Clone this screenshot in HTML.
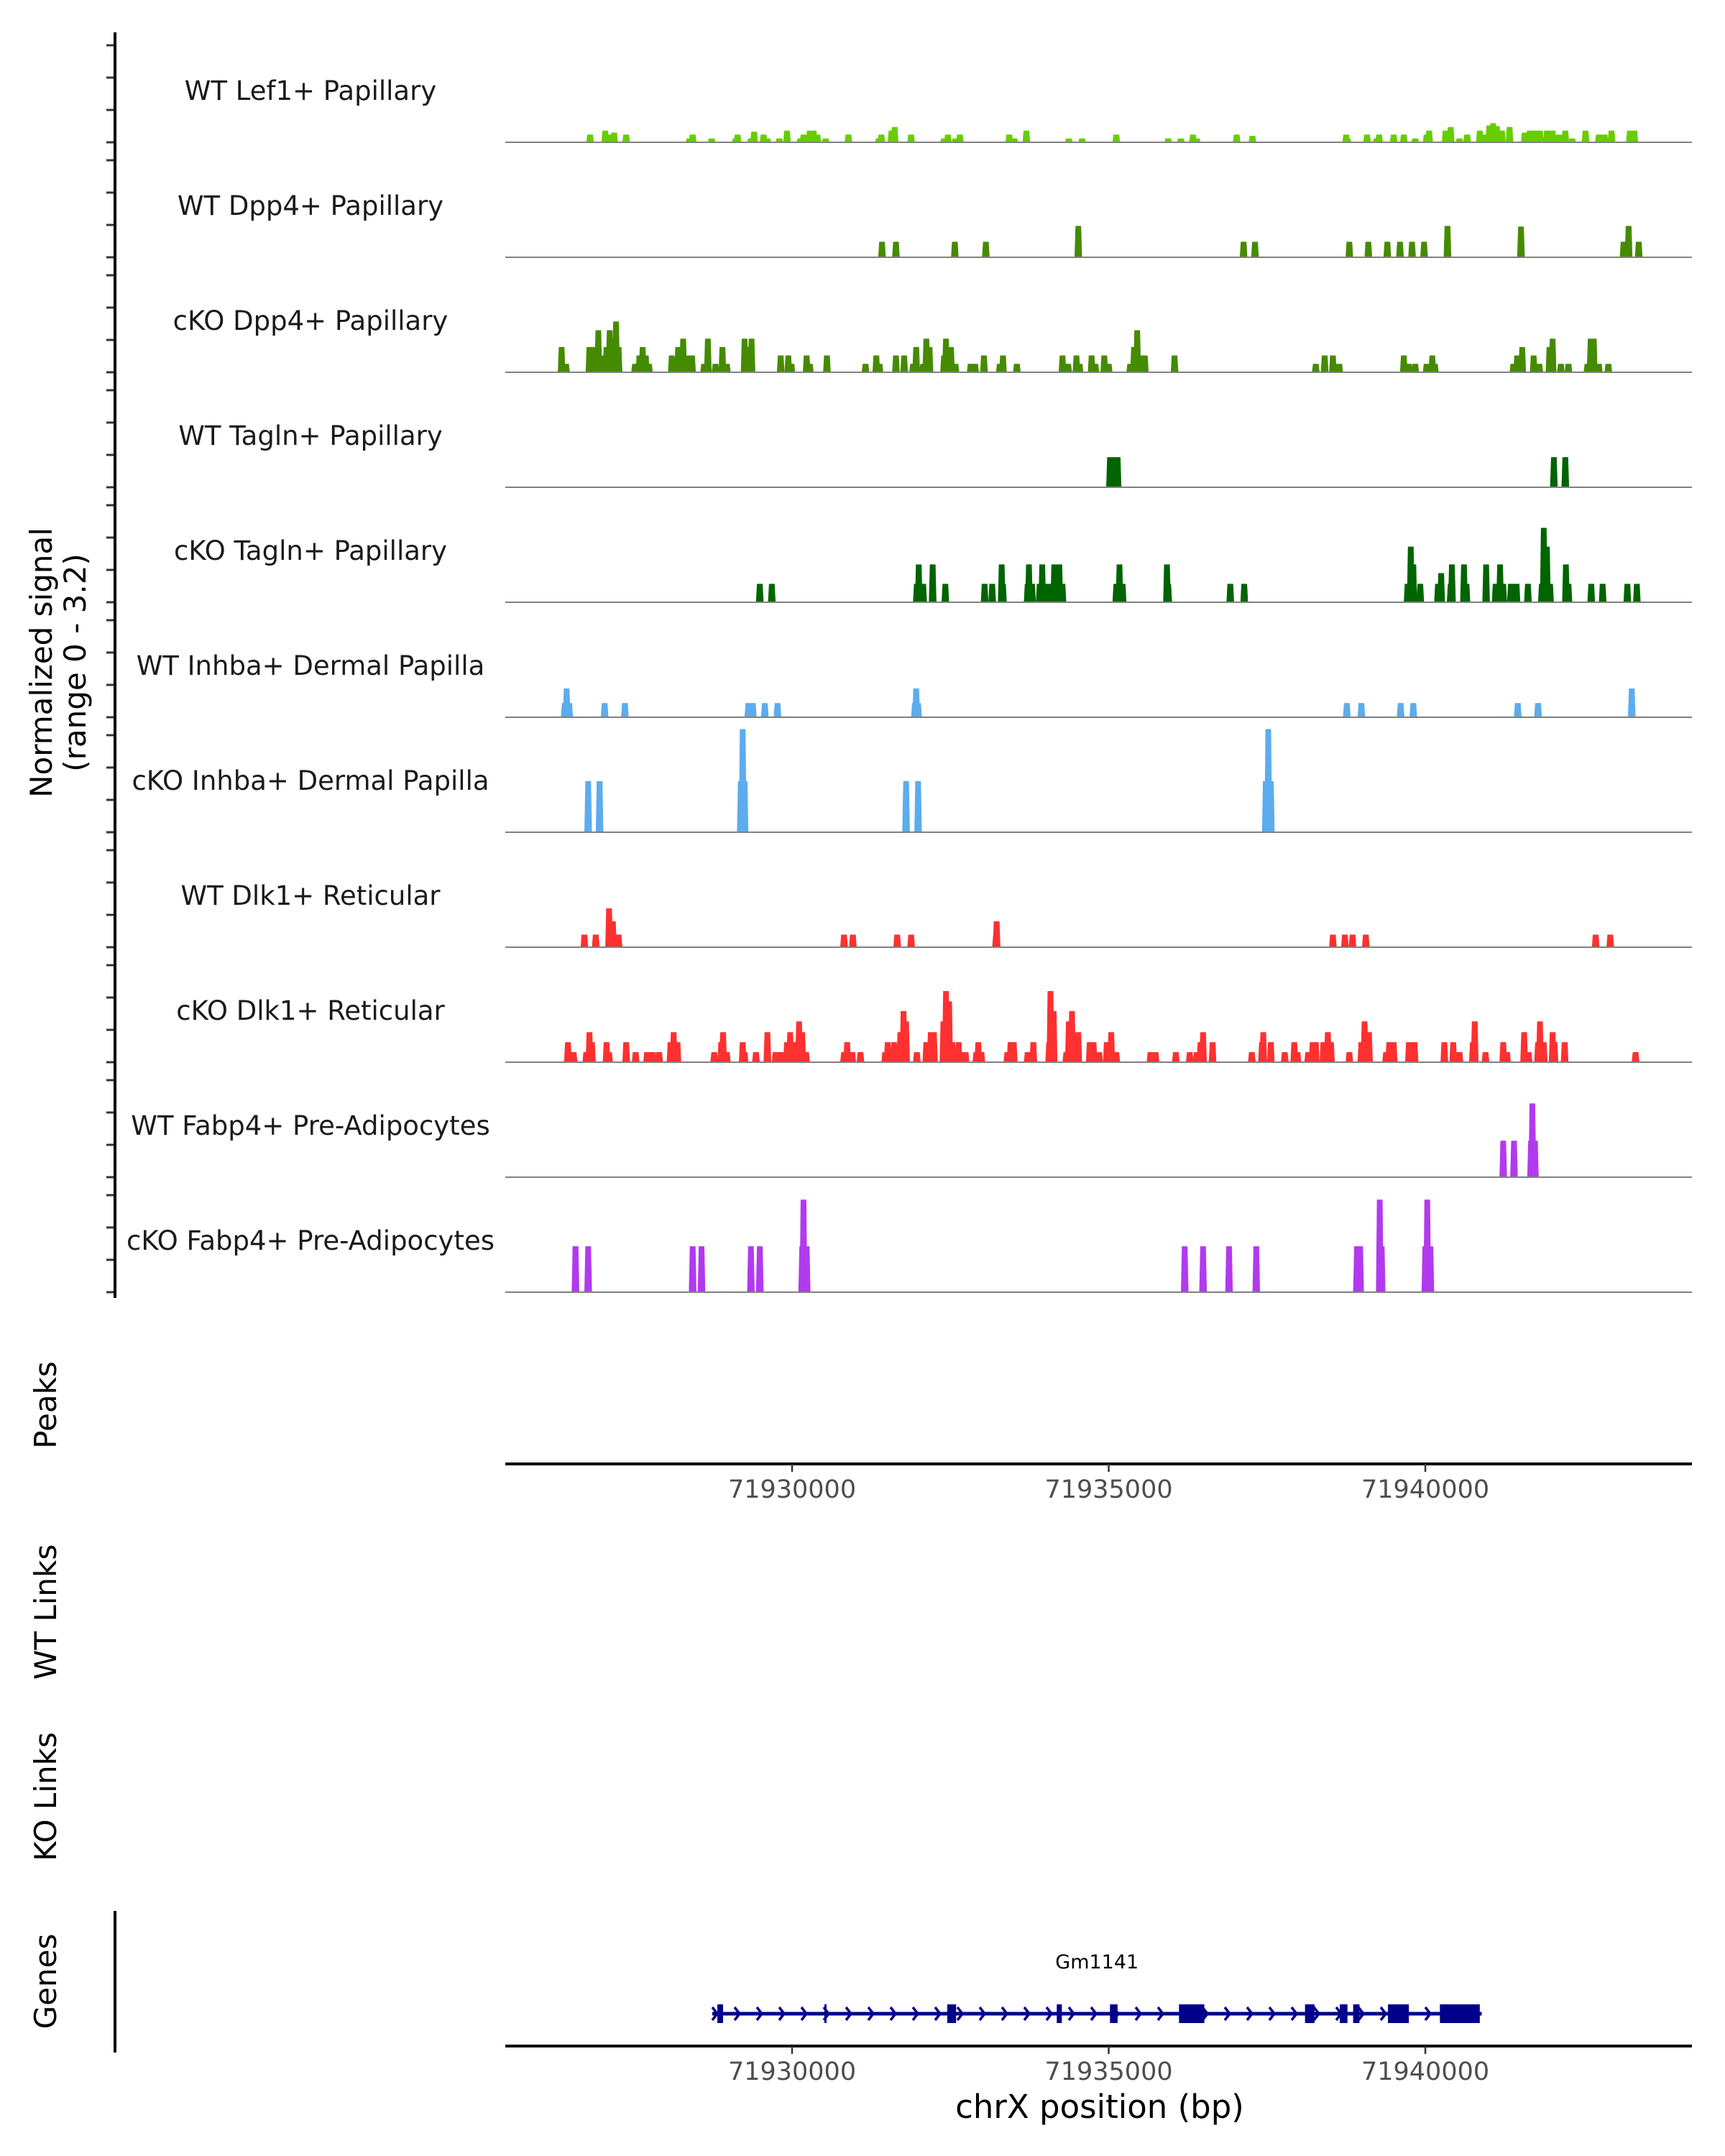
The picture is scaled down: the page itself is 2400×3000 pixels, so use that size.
<!DOCTYPE html>
<html><head><meta charset="utf-8"><style>
html,body{margin:0;padding:0;background:#fff;}
svg{display:block;font-family:"DejaVu Sans","Liberation Sans",sans-serif;}
</style></head><body>
<svg id="chart" width="2400" height="3000" viewBox="0 0 2400 3000" xmlns="http://www.w3.org/2000/svg">
<g id="tracks"></g>
<g id="axes"></g>
<text transform="translate(72,922) rotate(-90)" text-anchor="middle" font-size="42" fill="#000">Normalized signal</text>
<text transform="translate(119,922) rotate(-90)" text-anchor="middle" font-size="42" fill="#000">(range 0 - 3.2)</text>
<text transform="translate(78,1955) rotate(-90)" text-anchor="middle" font-size="42" fill="#000">Peaks</text>
<text transform="translate(78,2243) rotate(-90)" text-anchor="middle" font-size="42" fill="#000">WT Links</text>
<text transform="translate(78,2500) rotate(-90)" text-anchor="middle" font-size="42" fill="#000">KO Links</text>
<text transform="translate(78,2757) rotate(-90)" text-anchor="middle" font-size="42" fill="#000">Genes</text>
<line x1="160" y1="2659" x2="160" y2="2856" stroke="#000" stroke-width="4"/>
<text x="1530" y="2947" text-anchor="middle" font-size="45" fill="#000">chrX position (bp)</text>
<g id="genes"></g>
</svg>
<script>
// positions: kb beyond chrX:71,925,000 ; heights: normalized signal
const trackNames = ["WT Lef1+ Papillary","WT Dpp4+ Papillary","cKO Dpp4+ Papillary","WT Tagln+ Papillary","cKO Tagln+ Papillary","WT Inhba+ Dermal Papilla","cKO Inhba+ Dermal Papilla","WT Dlk1+ Reticular","cKO Dlk1+ Reticular","WT Fabp4+ Pre-Adipocytes","cKO Fabp4+ Pre-Adipocytes"];
const trackColors = ["#66CD00","#458B00","#458B00","#006400","#006400","#5CACEE","#5CACEE","#FF3030","#FF3030","#B23AEE","#B23AEE"];
const t1pos=[1.81,2.05,2.13,2.19,2.38,3.38,3.43,3.73,4.11,4.14,4.35,4.40,4.55,4.61,4.80,4.92,5.13,5.18,5.28,5.34,5.40,5.53,5.89,6.37,6.41,6.57,6.62,6.88,7.40,7.46,7.58,7.65,8.43,8.51,8.70,9.37,9.58,10.12,10.94,11.14,11.33,11.39,12.02,12.27,13.75,13.77,14.08,14.23,14.27,14.50,14.66,14.84,15.02,15.06,15.32,15.40,15.54,15.66,15.86,15.92,16.01,16.07,16.13,16.21,16.33,16.57,16.65,16.74,16.81,16.92,17.01,17.11,17.21,17.32,17.53,17.74,17.83,17.94,18.23,18.30];
const t1val=[0.24,0.36,0.24,0.3,0.24,0.12,0.24,0.12,0.12,0.24,0.12,0.33,0.24,0.12,0.12,0.36,0.12,0.24,0.36,0.36,0.24,0.12,0.24,0.12,0.24,0.36,0.47,0.24,0.12,0.24,0.12,0.24,0.24,0.12,0.36,0.12,0.12,0.24,0.12,0.12,0.24,0.12,0.24,0.2,0.24,0.12,0.24,0.12,0.24,0.24,0.24,0.12,0.24,0.36,0.36,0.47,0.12,0.24,0.36,0.24,0.52,0.59,0.5,0.36,0.47,0.3,0.36,0.36,0.36,0.36,0.36,0.24,0.36,0.12,0.36,0.24,0.24,0.36,0.36,0.36];
const t2pos=[6.42,6.64,7.57,8.06,9.52,12.13,12.31,13.80,14.10,14.40,14.60,14.79,14.98,15.35,16.51,18.13,18.21,18.37];
const t2val=[0.48,0.48,0.48,0.48,0.97,0.48,0.48,0.48,0.48,0.48,0.48,0.48,0.48,0.97,0.95,0.48,0.97,0.48];
const t3pos=[1.36,1.43,1.80,1.87,1.94,1.99,2.07,2.12,2.17,2.22,2.26,2.52,2.59,2.64,2.69,2.74,3.10,3.20,3.28,3.34,3.42,3.61,3.67,3.79,3.90,3.97,4.25,4.31,4.36,4.82,4.94,4.99,5.23,5.28,5.55,6.16,6.33,6.38,6.64,6.77,6.91,6.96,7.07,7.12,7.17,7.40,7.43,7.51,7.58,7.82,7.89,8.03,8.28,8.33,8.55,9.27,9.36,9.49,9.54,9.73,9.79,9.93,10.00,10.34,10.40,10.45,10.51,10.57,11.04,13.27,13.41,13.54,13.64,14.66,14.74,14.84,15.02,15.11,15.15,16.39,16.45,16.53,16.71,16.80,16.96,17.01,17.14,17.26,17.56,17.61,17.66,17.74,17.89];
const t3val=[0.78,0.26,0.78,0.78,1.3,0.52,0.78,1.3,1.04,1.57,0.78,0.26,0.52,0.78,0.52,0.26,0.52,0.78,1.04,0.52,0.52,0.26,1.04,0.26,0.78,0.26,1.04,0.78,1.04,0.52,0.52,0.26,0.52,0.26,0.52,0.26,0.52,0.26,0.52,0.52,0.26,0.78,0.26,1.04,0.78,0.52,1.04,0.78,0.26,0.26,0.26,0.52,0.26,0.52,0.26,0.52,0.26,0.52,0.26,0.52,0.26,0.52,0.26,0.26,0.78,1.3,0.52,0.52,0.52,0.26,0.52,0.52,0.26,0.52,0.26,0.26,0.26,0.52,0.26,0.26,0.52,0.78,0.52,0.26,0.78,1.04,0.26,0.26,0.26,1.04,1.04,0.26,0.26];
const t4pos=[10.02,10.08,10.14,17.03,17.21];
const t4val=[0.93,0.93,0.93,0.93,0.93];
const t5pos=[4.49,4.68,6.97,7.00,7.07,7.22,7.42,8.04,8.16,8.31,8.33,8.72,8.74,8.79,8.91,8.95,9.01,9.10,9.14,9.22,9.27,10.12,10.17,10.22,10.92,10.94,11.92,12.14,14.72,14.77,14.81,14.92,15.20,15.25,15.40,15.42,15.61,15.65,15.96,16.11,16.18,16.23,16.35,16.44,16.62,16.84,16.87,16.92,16.97,17.22,17.26,17.62,17.80,18.19,18.34];
const t5val=[0.57,0.57,0.57,1.17,0.57,1.17,0.57,0.57,0.57,1.17,0.57,0.57,1.17,0.57,0.57,1.17,0.57,0.57,1.17,1.17,0.57,0.57,1.17,0.57,1.17,0.57,0.57,0.57,0.57,1.72,1.17,0.57,0.57,0.9,0.57,1.17,1.17,0.57,1.17,0.57,1.17,0.57,0.57,0.57,0.57,0.57,2.3,1.72,0.57,1.17,0.57,0.57,0.57,0.57,0.57];
const t6pos=[1.41,1.44,1.48,2.04,2.36,4.31,4.38,4.57,4.77,6.94,6.96,6.99,13.76,13.99,14.61,14.81,16.46,16.78,18.26];
const t6val=[0.44,0.89,0.44,0.44,0.44,0.44,0.44,0.44,0.44,0.44,0.89,0.44,0.44,0.44,0.44,0.44,0.44,0.44,0.89];
const t7pos=[1.78,1.96,4.19,4.22,4.25,6.80,6.99,12.48,12.52,12.56];
const t7val=[1.58,1.58,1.58,3.19,1.58,1.58,1.58,1.58,3.19,1.58];
const t8pos=[1.72,1.90,2.11,2.17,2.26,5.82,5.96,6.66,6.88,8.22,8.23,13.54,13.73,13.85,14.06,17.69,17.92];
const t8val=[0.39,0.39,1.2,0.8,0.39,0.39,0.39,0.39,0.39,0.39,0.8,0.39,0.39,0.39,0.39,0.39,0.39];
const t9pos=[1.46,1.55,1.75,1.80,1.84,2.07,2.11,2.38,2.53,2.71,2.80,2.90,3.08,3.13,3.19,3.77,3.88,3.91,3.97,4.22,4.25,4.43,4.61,4.74,4.82,4.92,4.97,5.04,5.11,5.16,5.22,5.82,5.87,5.95,6.08,6.47,6.51,6.61,6.64,6.71,6.76,6.80,6.97,7.12,7.19,7.24,7.39,7.43,7.48,7.53,7.58,7.63,7.68,7.74,7.91,7.94,7.99,8.40,8.45,8.50,8.72,8.81,9.06,9.08,9.13,9.33,9.37,9.42,9.47,9.52,9.70,9.76,9.85,9.97,10.04,10.12,10.66,10.74,11.06,11.28,11.39,11.45,11.49,11.64,12.26,12.42,12.44,12.56,12.78,12.93,12.98,13.15,13.22,13.27,13.39,13.46,13.51,13.80,13.99,14.04,14.11,14.38,14.43,14.50,14.74,14.83,15.30,15.44,15.54,15.75,15.78,15.95,16.23,16.29,16.56,16.63,16.78,16.81,16.87,17.01,17.04,17.20,18.32];
const t9val=[0.62,0.31,0.31,0.93,0.62,0.62,0.31,0.62,0.31,0.31,0.31,0.31,0.62,0.93,0.62,0.31,0.62,0.93,0.31,0.62,0.31,0.31,0.93,0.31,0.31,0.62,0.93,0.62,1.26,0.93,0.31,0.31,0.62,0.31,0.31,0.31,0.62,0.62,0.31,0.93,1.58,1.26,0.31,0.62,0.93,0.93,1.26,2.2,1.88,0.62,0.31,0.62,0.31,0.31,0.31,0.62,0.31,0.31,0.62,0.62,0.31,0.62,0.62,2.2,1.58,0.31,1.26,1.58,0.62,0.93,0.62,0.62,0.31,0.62,0.93,0.31,0.31,0.31,0.31,0.31,0.31,0.62,0.93,0.62,0.31,0.62,0.93,0.62,0.31,0.62,0.31,0.31,0.62,0.62,0.62,0.93,0.62,0.31,0.62,1.26,0.93,0.31,0.62,0.62,0.62,0.62,0.62,0.62,0.31,0.62,1.26,0.31,0.62,0.31,0.93,0.31,0.62,1.26,0.62,0.93,0.62,0.62,0.31];
const t10pos=[16.23,16.40,16.67,16.69,16.73];
const t10val=[1.13,1.13,1.13,2.28,1.13];
const t11pos=[1.58,1.78,3.43,3.57,4.35,4.49,5.16,5.18,5.23,11.20,11.49,11.90,12.33,13.92,13.97,14.28,14.31,15.00,15.03,15.08];
const t11val=[1.42,1.42,1.42,1.42,1.42,1.42,1.42,2.86,1.42,1.42,1.42,1.42,1.42,1.42,1.42,2.86,1.42,1.42,2.86,1.42];
const trackPos=[t1pos,t2pos,t3pos,t4pos,t5pos,t6pos,t7pos,t8pos,t9pos,t10pos,t11pos];
const trackVal=[t1val,t2val,t3val,t4val,t5val,t6val,t7val,t8val,t9val,t10val,t11val];
const xTicks=[5,10,15];
const xTickLabels=["71930000","71935000","71940000"];
const yTicks=[0,1,2,3];
const geneName="Gm1141";
const geneStart=3.74, geneEnd=15.89;
const exonStarts=[3.82,5.51,7.45,9.18,10.02,11.11,13.10,13.65,13.86,14.41,15.23];
const exonEnds=[3.91,5.54,7.59,9.26,10.14,11.51,13.25,13.77,13.96,14.74,15.86];

const NS="http://www.w3.org/2000/svg";
const X0=703, X1=2354, D0=0.471, D1=19.21;
function xs(v){return X0+(v-D0)/(D1-D0)*(X1-X0);}
const PXU=45;
function base(i){return 198+160*i;}
function ys(i,v){return base(i)-v*PXU;}
function mk(tag,attrs,parent){const e=document.createElementNS(NS,tag);for(const k in attrs)e.setAttribute(k,attrs[k]);parent.appendChild(e);return e;}
const tracks=document.getElementById('tracks');
const axes=document.getElementById('axes');
const HW=0.06, TW=0.045;
for(let i=0;i<trackNames.length;i++){
  const g=mk('g',{},tracks);
  
  
  const lab=mk('text',{x:432,y:base(i)-59,'text-anchor':'middle','font-size':37,fill:'#1a1a1a'},g);
  lab.textContent=trackNames[i];
  
  
  let d='';
  const P=trackPos[i],V=trackVal[i];
  for(let j=0;j<P.length;j++){
    const b=base(i),t=ys(i,V[j]);
    d+=`M${xs(P[j]-HW).toFixed(1)},${b}L${xs(P[j]-TW).toFixed(1)},${t.toFixed(1)}L${xs(P[j]+TW).toFixed(1)},${t.toFixed(1)}L${xs(P[j]+HW).toFixed(1)},${b}Z`;
  }
  const p=mk('path',{d:d,fill:trackColors[i]},g);
  
  
  const bl=mk('line',{x1:X0,x2:X1,y1:base(i),y2:base(i),stroke:'#808080','stroke-width':2},g);
  
  
  for(const tv of yTicks){
    const tk=mk('line',{x1:148,x2:160,y1:ys(i,tv),y2:ys(i,tv),stroke:'#333','stroke-width':3},axes);
    
    
  }
}
const ya=mk('line',{x1:160,x2:160,y1:45,y2:1806,stroke:'#000','stroke-width':4},axes);


function xAxis(y,name){
  const g=mk('g',{},axes);
  
  
  mk('line',{x1:X0,x2:X1,y1:y,y2:y,stroke:'#000','stroke-width':4},g);
  for(let k=0;k<xTicks.length;k++){
    const x=xs(xTicks[k]);
    mk('line',{x1:x,x2:x,y1:y,y2:y+11,stroke:'#333','stroke-width':2.5},g);
    const t=mk('text',{x:x,y:y+47,'text-anchor':'middle','font-size':35,fill:'#4d4d4d'},g);
    t.textContent=xTickLabels[k];
    
    
  }
}
xAxis(2037,'peaks-x-axis');
xAxis(2847,'genes-x-axis');
const gg=document.getElementById('genes');
const gy=2802;
mk('line',{x1:xs(geneStart),x2:xs(geneEnd),y1:gy,y2:gy,stroke:'#00008B','stroke-width':5},gg);
for(let k=0;k<exonStarts.length;k++){
  const r=mk('rect',{x:xs(exonStarts[k]),y:gy-13,width:Math.max(3,xs(exonEnds[k])-xs(exonStarts[k])),height:26,fill:'#00008B'},gg);
  
  
}
let ad='';
for(let x=xs(geneStart)+4;x<xs(geneEnd);x+=31){ad+=`M${x-4},${gy-9}L${x+3},${gy}L${x-4},${gy+9}`;}
const arr=mk('path',{d:ad,stroke:'#00008B','stroke-width':3.5,fill:'none'},gg);


const gl=mk('text',{x:xs((geneStart+geneEnd)/2),y:2739,'text-anchor':'middle','font-size':27,fill:'#000'},gg);
gl.textContent=geneName;


</script>
</body></html>
